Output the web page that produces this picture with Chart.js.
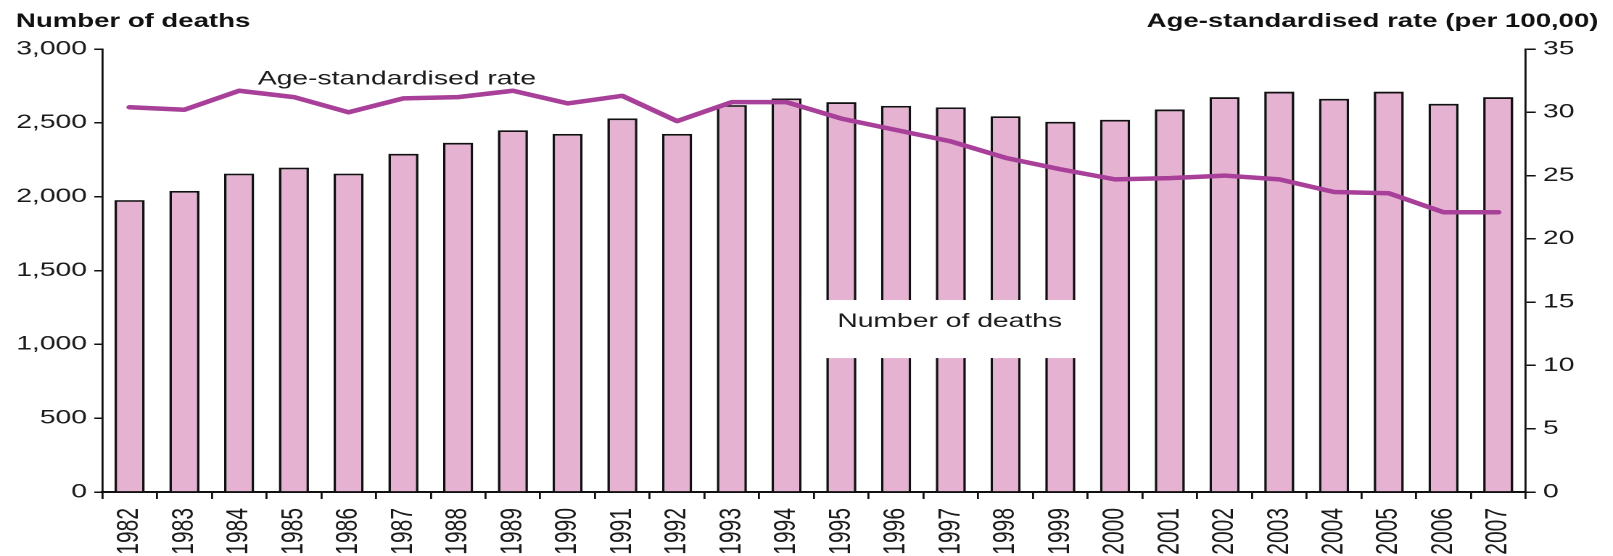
<!DOCTYPE html>
<html>
<head>
<meta charset="utf-8">
<script src="https://cdn.jsdelivr.net/npm/chart.js@4/dist/chart.umd.min.js"></script>
<style>
  html, body { margin: 0; padding: 0; background: #fff; overflow: hidden; }
  #wrap { position: absolute; left: 0; top: 0; width: 1112px; height: 556px;
          transform: scaleX(1.4505); transform-origin: 0 0; }
</style>
</head>
<body>
<div id="wrap"><canvas id="c"></canvas></div>
<script>
const years = ['1982','1983','1984','1985','1986','1987','1988','1989','1990','1991','1992','1993','1994',
               '1995','1996','1997','1998','1999','2000','2001','2002','2003','2004','2005','2006','2007'];
const deaths = [1977, 2039, 2156, 2197, 2156, 2291, 2365, 2450, 2425, 2530, 2425, 2620, 2665,
                2640, 2615, 2605, 2545, 2507, 2521, 2590, 2674, 2711, 2663, 2711, 2629, 2674];
const rate = [30.4, 30.2, 31.7, 31.2, 30.0, 31.1, 31.2, 31.7, 30.7, 31.3, 29.3, 30.8, 30.8,
              29.5, 28.6, 27.7, 26.4, 25.5, 24.7, 24.8, 25.0, 24.7, 23.7, 23.6, 22.1, 22.1];
const leftTicks = [0, 500, 1000, 1500, 2000, 2500, 3000];
const rightTicks = [0, 5, 10, 15, 20, 25, 30, 35];
const leftTitle = 'Number of deaths';
const rightTitle = 'Age-standardised rate (per 100,00)';
const rateLabel = 'Age-standardised rate';
const deathsLabel = 'Number of deaths';

const FONT = "'Liberation Sans', Arial, sans-serif";

const annotations = {
  id: 'annotations',
  afterDatasetsDraw(chart) {
    const ctx = chart.ctx;
    const x = chart.scales.x, y = chart.scales.y, y1 = chart.scales.y1;
    // white box with the "Number of deaths" label
    const bx0 = x.getPixelForValue(12.28), bx1 = x.getPixelForValue(17.45);
    const by0 = y.getPixelForValue(1300), by1 = y.getPixelForValue(907);
    ctx.save();
    ctx.fillStyle = '#fff';
    ctx.fillRect(bx0, by0, bx1 - bx0, by1 - by0);
    ctx.fillStyle = '#1a1a1a';
    ctx.font = '19.5px ' + FONT;
    ctx.textAlign = 'center';
    ctx.textBaseline = 'alphabetic';
    ctx.fillText(deathsLabel, x.getPixelForValue(14.98), y.getPixelForValue(1117));
    // rate label
    ctx.textAlign = 'left';
    ctx.fillText(rateLabel, x.getPixelForValue(2.34), y1.getPixelForValue(32.2));
    ctx.restore();
  },
  afterDraw(chart) {
    const ctx = chart.ctx;
    ctx.save();
    ctx.fillStyle = '#111';
    ctx.font = 'bold 19px ' + FONT;
    ctx.textBaseline = 'alphabetic';
    ctx.textAlign = 'left';
    ctx.fillText(leftTitle, 11, 27);
    ctx.textAlign = 'right';
    ctx.fillText(rightTitle, 1102, 27);
    ctx.restore();
  }
};

new Chart(document.getElementById('c'), {
  data: {
    labels: years,
    datasets: [
      {
        type: 'line', label: rateLabel, data: rate, yAxisID: 'y1',
        borderColor: '#a8409a', borderWidth: 4.5, pointRadius: 0, tension: 0,
        borderJoinStyle: 'round', borderCapStyle: 'round', order: 0
      },
      {
        type: 'bar', label: deathsLabel, data: deaths, yAxisID: 'y',
        backgroundColor: '#e6b2d2', borderColor: '#111', borderWidth: 1.8,
        borderSkipped: 'start', barPercentage: 0.55, categoryPercentage: 1, order: 1
      }
    ]
  },
  options: {
    responsive: true, maintainAspectRatio: false, animation: false,
    devicePixelRatio: 2,
    layout: { padding: { top: 49, left: 0, right: 0, bottom: 0 } },
    plugins: { legend: { display: false }, tooltip: { enabled: false }, title: { display: false } },
    scales: {
      x: {
        type: 'category', offset: true,
        grid: { display: true, offset: true, drawOnChartArea: false, drawTicks: true,
                tickLength: 7, color: '#111', lineWidth: 1.4 },
        border: { display: true, color: '#111', width: 2 },
        ticks: { autoSkip: false, minRotation: 90, maxRotation: 90, padding: 9,
                 color: '#1a1a1a', font: { family: FONT, size: 21 } },
        afterFit(s) { s.height = 64; }
      },
      y: {
        type: 'linear', position: 'left', min: 0, max: 3000,
        afterBuildTicks(s) { s.ticks = leftTicks.map(v => ({ value: v })); },
        grid: { display: true, drawOnChartArea: false, drawTicks: true, tickLength: 5.5,
                color: '#111', lineWidth: 1.5 },
        border: { display: true, color: '#111', width: 1.4 },
        ticks: { padding: 5, color: '#1a1a1a', font: { family: FONT, size: 19.5 },
                 callback: v => v.toLocaleString('en-US') },
        afterFit(s) { s.width = 70.5; }
      },
      y1: {
        type: 'linear', position: 'right', min: 0, max: 35,
        afterBuildTicks(s) { s.ticks = rightTicks.map(v => ({ value: v })); },
        grid: { display: true, drawOnChartArea: false, drawTicks: true, tickLength: 7,
                color: '#111', lineWidth: 1.5 },
        border: { display: true, color: '#111', width: 1.4 },
        ticks: { padding: 5, color: '#1a1a1a', font: { family: FONT, size: 19.5 } },
        afterFit(s) { s.width = 60.2; }
      }
    }
  },
  plugins: [annotations]
});
</script>
</body>
</html>
